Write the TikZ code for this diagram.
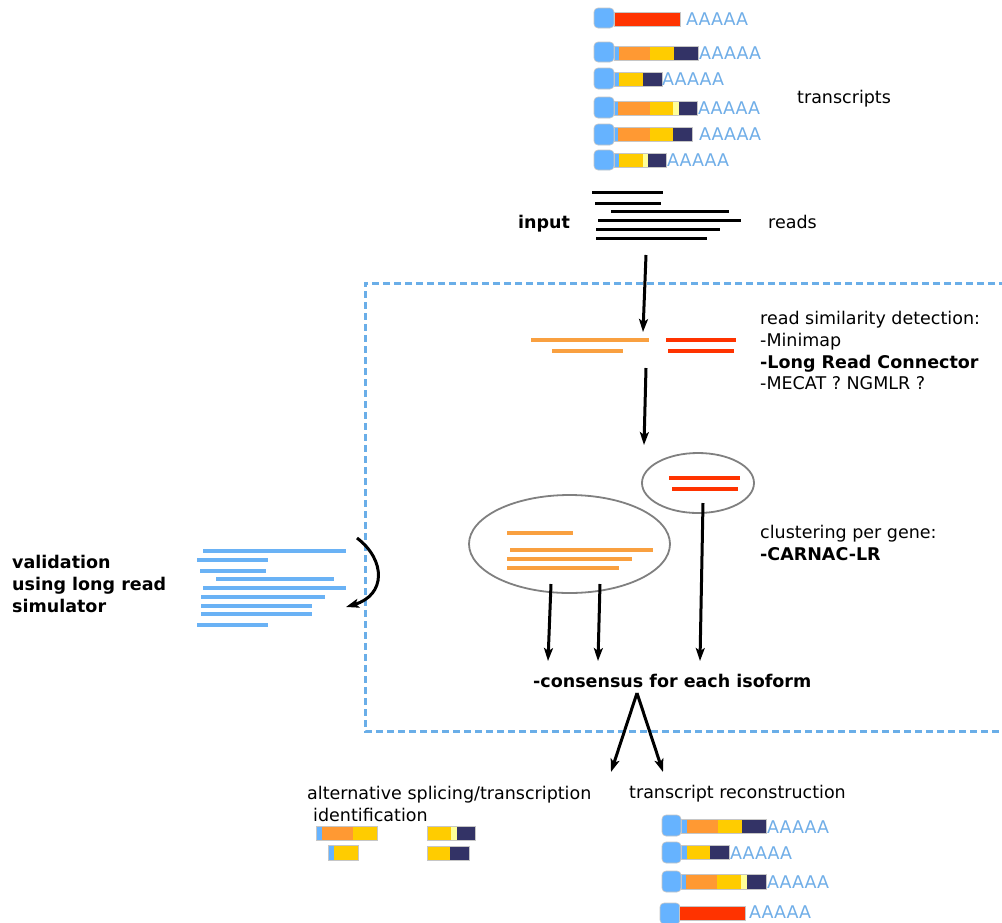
\documentclass[tikz,border=0pt]{standalone}
\usepackage{fontspec}
\setmainfont{DejaVu Sans}
\usetikzlibrary{arrows.meta}
\definecolor{capblue}{HTML}{66B3FF}
\definecolor{polyA}{HTML}{70AEE8}
\definecolor{segorange}{HTML}{FF9933}
\definecolor{segyellow}{HTML}{FFCC00}
\definecolor{segnavy}{HTML}{333366}
\definecolor{segpale}{HTML}{FFFF99}
\definecolor{segred}{HTML}{FF3300}
\definecolor{lineorange}{HTML}{F9A040}
\definecolor{dashblue}{HTML}{6AAEE8}
\definecolor{simblue}{HTML}{6AB2F5}
\begin{document}
\begin{tikzpicture}[x=1pt,y=-1pt,
  lbl/.style={anchor=base west,inner sep=0pt,font=\fontsize{17.5}{21}\selectfont},
  blbl/.style={lbl,font=\fontsize{17.5}{21}\selectfont\bfseries},
  polyAlbl/.style={anchor=base west,inner sep=0pt,text=polyA,font=\fontsize{17.5}{21}\selectfont},
  capbox/.style={fill=capblue,draw=gray!45,line width=0.6,rounded corners=4},
  barframe/.style={draw=gray!45,line width=0.6},
  readline/.style={line width=3,black},
  orline/.style={line width=3.5,lineorange},
  redline/.style={line width=3.5,segred},
  simline/.style={line width=3.5,simblue},
  blob/.style={draw=gray,line width=1.8},
  arr/.style={line width=3,black,-{Stealth[length=13,width=9,inset=3]}}]
\useasboundingbox (0,0) rectangle (1002,922);
\fill[white] (0,0) rectangle (1002,922);

% ---------- transcripts (top) ----------
% row 1
\draw[capbox] (594,8) rectangle (614,28);
\fill[segred] (614,12) rectangle (680,26);
\draw[barframe] (614,12) rectangle (680,26);
\node[polyAlbl] (a1) at (686,25) {AAAAA};
% row 2
\draw[capbox] (594,42) rectangle (614,62);
\fill[capblue] (614,46) rectangle (619,60);
\fill[segorange] (619,46) rectangle (650,60);
\fill[segyellow] (650,46) rectangle (674,60);
\fill[segnavy] (674,46) rectangle (698,60);
\draw[barframe] (614,46) rectangle (698,60);
\node[polyAlbl] (a2) at (699,59) {AAAAA};
% row 3
\draw[capbox] (594,68) rectangle (614,89);
\fill[capblue] (614,72) rectangle (619,86);
\fill[segyellow] (619,72) rectangle (643,86);
\fill[segnavy] (643,72) rectangle (662,86);
\draw[barframe] (614,72) rectangle (662,86);
\node[polyAlbl] (a3) at (662,85) {AAAAA};
% row 4
\draw[capbox] (594,97) rectangle (614,118);
\fill[capblue] (614,101) rectangle (618,115);
\fill[segorange] (618,101) rectangle (650,115);
\fill[segyellow] (650,101) rectangle (673,115);
\fill[segpale] (673,101) rectangle (679,115);
\fill[segnavy] (679,101) rectangle (697,115);
\draw[barframe] (614,101) rectangle (697,115);
\node[polyAlbl] (a4) at (698,114) {AAAAA};
% row 5
\draw[capbox] (594,124) rectangle (614,145);
\fill[capblue] (614,127) rectangle (618,141);
\fill[segorange] (618,127) rectangle (650,141);
\fill[segyellow] (650,127) rectangle (673,141);
\fill[segnavy] (673,127) rectangle (692,141);
\draw[barframe] (614,127) rectangle (692,141);
\node[polyAlbl] (a5) at (699,140) {AAAAA};
% row 6
\draw[capbox] (594,150) rectangle (614,170);
\fill[capblue] (614,153) rectangle (619,167);
\fill[segyellow] (619,153) rectangle (643,167);
\fill[segpale] (643,153) rectangle (648,167);
\fill[segnavy] (648,153) rectangle (666,167);
\draw[barframe] (614,153) rectangle (666,167);
\node[polyAlbl] (a6) at (667,166) {AAAAA};

\node[lbl] (ltranscripts) at (797,103) {transcripts};

% ---------- reads ----------
\draw[readline] (592,192) -- (663,192);
\draw[readline] (595,203) -- (661,203);
\draw[readline] (611,211) -- (729,211);
\draw[readline] (598,220) -- (741,220);
\draw[readline] (596,229) -- (720,229);
\draw[readline] (596,238) -- (707,238);
\node[blbl] (linput) at (518,228) {input};
\node[lbl] (lreads) at (768,228) {reads};

% ---------- dashed frame ----------
\draw[dashblue,line width=3,dash pattern=on 7 off 4] (1006,283) -- (365,283) -- (365,731) -- (1006,731);

% ---------- arrows input -> similarity -> clustering ----------
\coordinate (r1s) at (646,255);
\coordinate (r1e) at (643,332);
\draw[arr] (r1s) -- (r1e);

\draw[orline] (531,340) -- (649,340);
\draw[orline] (552,351) -- (623,351);
\draw[redline] (666,340) -- (736,340);
\draw[redline] (668,351) -- (734,351);

\coordinate (r2s) at (646,368);
\coordinate (r2e) at (644,445);
\draw[arr] (r2s) -- (r2e);

\node[lbl] (ls1) at (760,324) {read similarity detection:};
\node[lbl] (ls2) at (760,346) {-Minimap};
\node[blbl] (ls3) at (760,368) {-Long Read Connector};
\node[lbl] (ls4) at (760,389) {-MECAT ? NGMLR ?};

% ---------- clusters ----------
\draw[blob] (698,483) ellipse [x radius=56,y radius=30];
\draw[redline] (669,478) -- (740,478);
\draw[redline] (672,489) -- (738,489);

\draw[blob] (569.5,544) ellipse [x radius=100.5,y radius=49];
\draw[orline] (507,533) -- (573,533);
\draw[orline] (510,550) -- (653,550);
\draw[orline] (507,559) -- (632,559);
\draw[orline] (507,568) -- (619,568);

\node[lbl] (lc1) at (760,538) {clustering per gene:};
\node[blbl] (lc2) at (760,560) {-CARNAC-LR};

\coordinate (c1s) at (551,584);
\coordinate (c1e) at (548,661);
\coordinate (c2s) at (600,584);
\coordinate (c2e) at (598,661);
\coordinate (c3s) at (703,503);
\coordinate (c3e) at (700,661);
\draw[arr] (c1s) -- (c1e);
\draw[arr] (c2s) -- (c2e);
\draw[arr] (c3s) -- (c3e);

\node[blbl] (lcons) at (533,687) {-consensus for each isoform};

% ---------- simulator ----------
\draw[simline] (203,551) -- (346,551);
\draw[simline] (197,560) -- (268,560);
\draw[simline] (200,571) -- (266,571);
\draw[simline] (216,579) -- (334,579);
\draw[simline] (203,588) -- (346,588);
\draw[simline] (201,597) -- (325,597);
\draw[simline] (201,606) -- (312,606);
\draw[simline] (201,614) -- (312,614);
\draw[simline] (197,625) -- (268,625);
\coordinate (vs) at (357,538);
\coordinate (ve) at (346,607);
\draw[arr] (vs) .. controls (386,560) and (386,595) .. (ve);
\node[blbl] (lv1) at (12,568) {validation};
\node[blbl] (lv2) at (12,590) {using long read};
\node[blbl] (lv3) at (12,612) {simulator};

% ---------- outputs ----------
\coordinate (apex) at (637,693);
\coordinate (ol) at (611,772);
\coordinate (or) at (663,772);
\draw[arr] (apex) -- (ol);
\draw[arr] (apex) -- (or);

\node[lbl] (lalt1) at (307,799) {alternative splicing/transcription};
\node[lbl] (lalt2) at (313,821) {identification};
\node[lbl] (lrec) at (629,798) {transcript reconstruction};

% alternative splicing bars
\fill[capblue] (316,826) rectangle (322,840);
\fill[segorange] (322,826) rectangle (353,840);
\fill[segyellow] (353,826) rectangle (377,840);
\draw[barframe] (316,826) rectangle (377,840);
\fill[capblue] (328,845) rectangle (334,860);
\fill[segyellow] (334,845) rectangle (358,860);
\draw[barframe] (328,845) rectangle (358,860);
\fill[segyellow] (427,826) rectangle (451,840);
\fill[segpale] (451,826) rectangle (457,840);
\fill[segnavy] (457,826) rectangle (475,840);
\draw[barframe] (427,826) rectangle (475,840);
\fill[segyellow] (427,846) rectangle (450,860);
\fill[segnavy] (450,846) rectangle (469,860);
\draw[barframe] (427,846) rectangle (469,860);

% reconstructed transcripts
\draw[capbox] (662,815) rectangle (681,836);
\fill[capblue] (681,819) rectangle (687,833);
\fill[segorange] (687,819) rectangle (718,833);
\fill[segyellow] (718,819) rectangle (742,833);
\fill[segnavy] (742,819) rectangle (766,833);
\draw[barframe] (681,819) rectangle (766,833);
\node[polyAlbl] (b1) at (767,833) {AAAAA};

\draw[capbox] (662,842) rectangle (681,863);
\fill[capblue] (681,845) rectangle (687,859);
\fill[segyellow] (687,845) rectangle (710,859);
\fill[segnavy] (710,845) rectangle (729,859);
\draw[barframe] (681,845) rectangle (729,859);
\node[polyAlbl] (b2) at (730,859) {AAAAA};

\draw[capbox] (662,871) rectangle (681,892);
\fill[capblue] (681,874) rectangle (686,889);
\fill[segorange] (686,874) rectangle (717,889);
\fill[segyellow] (717,874) rectangle (741,889);
\fill[segpale] (741,874) rectangle (747,889);
\fill[segnavy] (747,874) rectangle (766,889);
\draw[barframe] (681,874) rectangle (766,889);
\node[polyAlbl] (b3) at (767,888) {AAAAA};

\draw[capbox] (660,903) rectangle (680,924);
\fill[segred] (679,906) rectangle (745,920);
\draw[barframe] (679,906) rectangle (745,920);
\node[polyAlbl] (b4) at (749,918) {AAAAA};
\end{tikzpicture}
\end{document}
